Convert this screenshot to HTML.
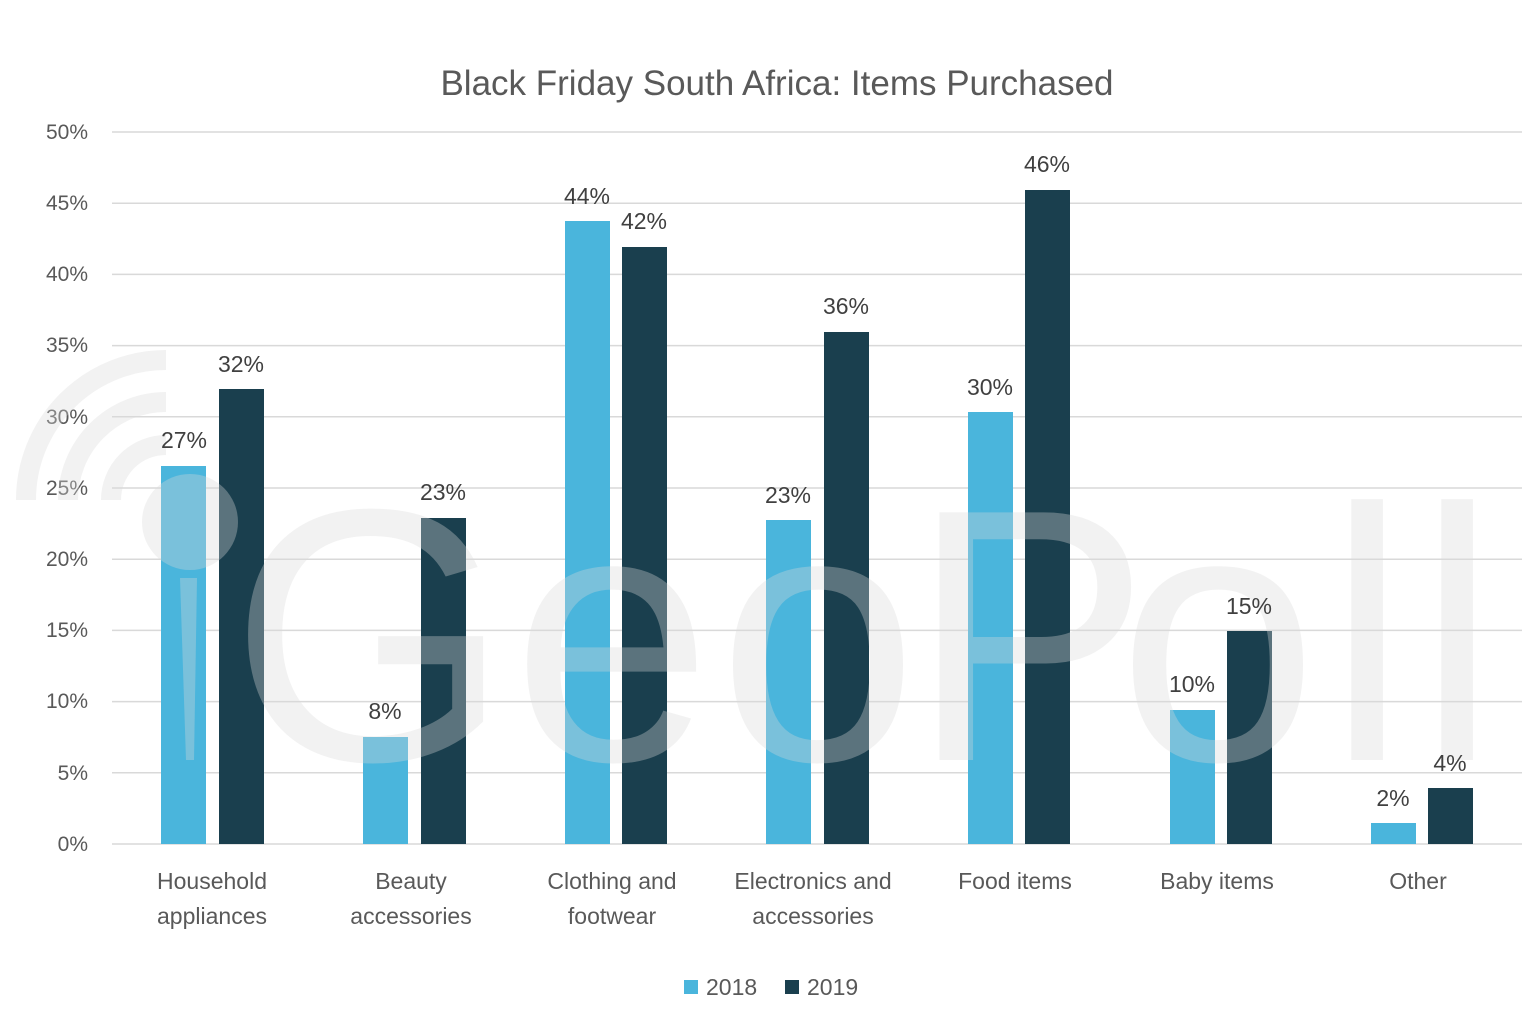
<!DOCTYPE html>
<html><head><meta charset="utf-8"><style>
body{margin:0;background:#fff;}
svg{display:block;font-family:"Liberation Sans",sans-serif;}
</style></head><body>
<svg width="1536" height="1027" viewBox="0 0 1536 1027" xmlns="http://www.w3.org/2000/svg">
<rect width="1536" height="1027" fill="#fff"/>
<text x="777" y="95" text-anchor="middle" font-size="35" fill="#595959">Black Friday South Africa: Items Purchased</text>
<g stroke="#d9d9d9" stroke-width="1.5">
<line x1="112" x2="1522" y1="132" y2="132"/><line x1="112" x2="1522" y1="203.2" y2="203.2"/>
<line x1="112" x2="1522" y1="274.4" y2="274.4"/><line x1="112" x2="1522" y1="345.6" y2="345.6"/>
<line x1="112" x2="1522" y1="416.8" y2="416.8"/><line x1="112" x2="1522" y1="488" y2="488"/>
<line x1="112" x2="1522" y1="559.2" y2="559.2"/><line x1="112" x2="1522" y1="630.4" y2="630.4"/>
<line x1="112" x2="1522" y1="701.6" y2="701.6"/><line x1="112" x2="1522" y1="772.8" y2="772.8"/>
<line x1="112" x2="1522" y1="844" y2="844"/>
</g>
<g font-size="21" fill="#595959" text-anchor="end">
<text x="88" y="139">50%</text><text x="88" y="210">45%</text><text x="88" y="281">40%</text>
<text x="88" y="352">35%</text><text x="88" y="424">30%</text><text x="88" y="495">25%</text>
<text x="88" y="566">20%</text><text x="88" y="637">15%</text><text x="88" y="708">10%</text>
<text x="88" y="780">5%</text><text x="88" y="851">0%</text>
</g>
<g fill="#4ab5dc">
<rect x="161" y="466" width="45" height="378"/><rect x="363" y="737" width="45" height="107"/>
<rect x="565" y="221" width="45" height="623"/><rect x="766" y="520" width="45" height="324"/>
<rect x="968" y="412" width="45" height="432"/><rect x="1170" y="710" width="45" height="134"/>
<rect x="1371" y="823" width="45" height="21"/>
</g>
<g fill="#1a3f4e">
<rect x="219" y="389" width="45" height="455"/><rect x="421" y="518" width="45" height="326"/>
<rect x="622" y="247" width="45" height="597"/><rect x="824" y="332" width="45" height="512"/>
<rect x="1025" y="190" width="45" height="654"/><rect x="1227" y="631" width="45" height="213"/>
<rect x="1428" y="788" width="45" height="56"/>
</g>
<!-- watermark -->
<g fill="rgba(218,218,218,0.34)" stroke="none">
<text x="370" y="760" text-anchor="middle" font-size="360">G</text>
<text x="612" y="760" text-anchor="middle" font-size="360">e</text>
<text x="818" y="760" text-anchor="middle" font-size="360">o</text>
<text x="1030" y="760" text-anchor="middle" font-size="360">P</text>
<text x="1218" y="760" text-anchor="middle" font-size="360">o</text>
<text x="1367" y="760" text-anchor="middle" font-size="360">l</text>
<text x="1457" y="760" text-anchor="middle" font-size="360">l</text>
<circle cx="190" cy="522" r="48"/>
<path d="M180 578 L197 578 L194 760 L186 760 Z"/>
</g>
<g fill="none" stroke="rgba(218,218,218,0.34)" stroke-width="20">
<path d="M26 500 A140 140 0 0 1 166 360"/>
<path d="M68 500 A98 98 0 0 1 166 402"/>
<path d="M111 500 A55 55 0 0 1 166 445"/>
</g>
<g font-size="23" fill="#404040" text-anchor="middle">
<text x="184" y="448">27%</text><text x="241" y="372">32%</text>
<text x="385" y="719">8%</text><text x="443" y="500">23%</text>
<text x="587" y="204">44%</text><text x="644" y="229">42%</text>
<text x="788" y="503">23%</text><text x="846" y="314">36%</text>
<text x="990" y="395">30%</text><text x="1047" y="172">46%</text>
<text x="1192" y="692">10%</text><text x="1249" y="614">15%</text>
<text x="1393" y="806">2%</text><text x="1450" y="771">4%</text>
</g>
<g font-size="23" fill="#595959" text-anchor="middle">
<text x="212" y="889">Household</text><text x="212" y="924">appliances</text>
<text x="411" y="889">Beauty</text><text x="411" y="924">accessories</text>
<text x="612" y="889">Clothing and</text><text x="612" y="924">footwear</text>
<text x="813" y="889">Electronics and</text><text x="813" y="924">accessories</text>
<text x="1015" y="889">Food items</text>
<text x="1217" y="889">Baby items</text>
<text x="1418" y="889">Other</text>
</g>
<rect x="684" y="980" width="14" height="14" fill="#4ab5dc"/>
<text x="706" y="995" font-size="23" fill="#595959">2018</text>
<rect x="785" y="980" width="14" height="14" fill="#1a3f4e"/>
<text x="807" y="995" font-size="23" fill="#595959">2019</text>
</svg>
</body></html>
